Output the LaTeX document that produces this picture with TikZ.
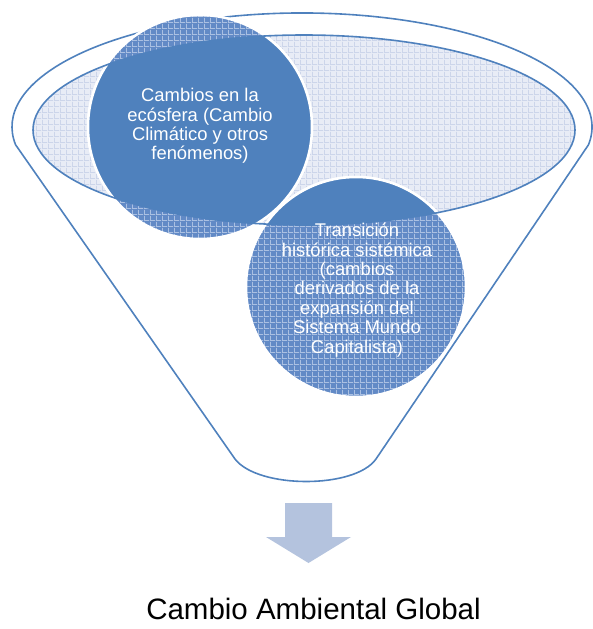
\documentclass[tikz,border=0pt]{standalone}
\usepackage{fontspec}
\setmainfont{Liberation Sans}
\usetikzlibrary{patterns}
\definecolor{obl}{RGB}{79,129,189}
\definecolor{darkpat}{RGB}{98,138,198}
\definecolor{darkgrid}{RGB}{170,192,226}
\definecolor{lightbg}{RGB}{232,236,246}
\definecolor{lightgrid}{RGB}{204,213,234}
\definecolor{arrowc}{RGB}{180,195,222}
\pgfdeclarepatternformonly{gridsix}{\pgfqpoint{0pt}{0pt}}{\pgfqpoint{6pt}{6pt}}{\pgfqpoint{6pt}{6pt}}{%
  \pgfsetlinewidth{1pt}%
  \pgfpathmoveto{\pgfqpoint{0pt}{0.5pt}}\pgfpathlineto{\pgfqpoint{6pt}{0.5pt}}%
  \pgfpathmoveto{\pgfqpoint{0.5pt}{0pt}}\pgfpathlineto{\pgfqpoint{0.5pt}{6pt}}%
  \pgfusepath{stroke}}
\tikzset{
  funnelline/.style={draw=obl, line width=1.6pt, line join=round},
  lightfill/.style={fill=lightbg, postaction={pattern=gridsix, pattern color=lightgrid}},
  darkfill/.style={fill=darkpat, postaction={pattern=gridsix, pattern color=darkgrid}},
  solidfill/.style={fill=obl},
  whiteborder/.style={draw=white, line width=2.5pt},
  ctext/.style={text=white, font=\fontsize{18.4}{19.4}\selectfont, align=center, inner sep=0pt},
  bigtext/.style={text=black, font=\fontsize{29.5}{34}\selectfont, anchor=base, inner sep=0pt},
  arrowshape/.style={fill=arrowc}
}
\begin{document}
\begin{tikzpicture}[x=1pt,y=-1pt]
\useasboundingbox (0,0) rectangle (592,629);
% funnel outline
\draw[funnelline] (15.6,144.8) arc[start angle=171,end angle=369,x radius=290,y radius=114]
  -- (376,459) .. controls (355,489) and (258,489) .. (235,459) -- cycle;
% inner ellipse fill
\path[lightfill] (304,130) ellipse[x radius=271, y radius=95];
% circles, patterned parts
\path[darkfill] (200,127) circle[radius=112];
\path[whiteborder] (200,127) circle[radius=112];
\path[darkfill] (356,287) circle[radius=110];
\path[whiteborder] (356,287) circle[radius=110];
% solid parts inside the ellipse
\begin{scope}
  \clip (304,130) ellipse[x radius=271, y radius=95];
  \path[solidfill] (200,127) circle[radius=112];
  \path[whiteborder] (200,127) circle[radius=112];
  \path[solidfill] (356,287) circle[radius=110];
  \path[whiteborder] (356,287) circle[radius=110];
\end{scope}
% ellipse border
\draw[funnelline] (304,130) ellipse[x radius=271, y radius=95];
% texts
\node[ctext] (t1) at (200,126) {Cambios en la\\ecósfera (Cambio\\Climático y otros\\fenómenos)};
\node[ctext] (t2) at (357,290) {Transición\\histórica sistémica\\(cambios\\derivados de la\\expansión del\\Sistema Mundo\\Capitalista)};
% arrow
\path[arrowshape] (285,503) -- (332,503) -- (332,537) -- (351,537) -- (308.5,563) -- (266,537) -- (285,537) -- cycle;
% result label
\node[bigtext] (lab) at (313.5,619) {Cambio Ambiental Global};
\end{tikzpicture}
\end{document}
